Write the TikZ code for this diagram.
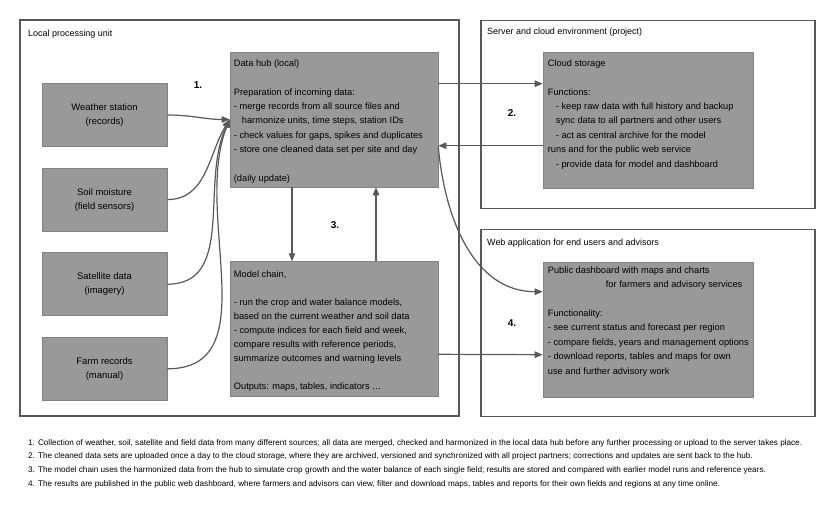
\documentclass[tikz,border=0pt]{standalone}
\usepackage{fontspec}
\setmainfont{Liberation Sans}
\usepackage{xcolor}
\usetikzlibrary{positioning, arrows.meta}

\definecolor{cinzacaixa}{RGB}{153,153,153}
\definecolor{cinzaborda}{RGB}{88,88,88}

\begin{document}
\begin{tikzpicture}[x=1bp, y=1bp,
  quadro/.style 2 args={draw=cinzaborda, line width=1.3bp, minimum width=#1, minimum height=#2, inner sep=0pt},
  caixa/.style 2 args={fill=cinzacaixa, draw=cinzacaixa!85!black, line width=0.6bp, minimum width=#1, minimum height=#2, inner sep=0pt},
  fonte/.style={caixa={125bp}{63bp}, align=center, font=\fontsize{9.5}{14}\selectfont},
  texto/.style={anchor=north west, align=left, inner sep=0pt, font=\fontsize{9.3}{14.5}\selectfont},
  titulo/.style={anchor=west, inner sep=0pt, font=\fontsize{9}{10}\selectfont},
  passo/.style={inner sep=0pt, font=\fontsize{10}{12}\selectfont\bfseries},
  seta/.style={draw=cinzaborda, line width=1.2bp, -{Triangle[length=8bp, width=6.5bp]}}
]

\useasboundingbox (0,0) rectangle (836,-512);

% Quadros de fundo
\node[quadro={439bp}{396bp}] (local) at (239.5,-218) {};
\node[quadro={334bp}{188bp}] (nuvem) at (648,-114.5) {};
\node[quadro={334bp}{187bp}] (web) at (648,-323) {};
\node[titulo] (local-tit) at (28,-34) {Local processing unit};
\node[titulo] (nuvem-tit) at (487,-32) {Server and cloud environment (project)};
\node[titulo] (web-tit) at (487,-243) {Web application for end users and advisors};

% Fontes de dados (caixas pequenas)
\node[fonte] (fonte1) at (104.5,-115) {Weather station\\(records)};
\node[fonte, below=21bp of fonte1] (fonte2) {Soil moisture\\(field sensors)};
\node[fonte, below=21bp of fonte2] (fonte3) {Satellite data\\(imagery)};
\node[fonte, below=21bp of fonte3] (fonte4) {Farm records\\(manual)};

% Caixas principais
\node[caixa={208bp}{135bp}] (hub) at (334,-119.5) {};
\node[caixa={208bp}{135bp}, below=74bp of hub] (modelo) {};
\node[caixa={210bp}{136bp}] (arquivo) at (648,-120) {};
\node[caixa={210bp}{135bp}] (painel) at (648,-329.5) {};

% Textos das caixas
\node[texto] (hub-txt) at ([shift={(4,-7.5)}]hub.north west) {Data hub (local)\\[14.5bp]
Preparation of incoming data:\\
- merge records from all source files and\\
\hspace*{8bp}harmonize units, time steps, station IDs\\
- check values for gaps, spikes and duplicates\\
- store one cleaned data set per site and day\\[14.5bp]
(daily update)};

\node[texto, font=\fontsize{9.3}{14}\selectfont] (modelo-txt) at ([shift={(4,-9.5)}]modelo.north west) {Model chain,\\[14bp]
- run the crop and water balance models,\\
based on the current weather and soil data\\
- compute indices for each field and week,\\
compare results with reference periods,\\
summarize outcomes and warning levels\\[14bp]
Outputs: maps, tables, indicators \dots};

\node[texto] (arquivo-txt) at ([shift={(5,-7.5)}]arquivo.north west) {Cloud storage\\[14.5bp]
Functions:\\
\hspace*{8bp}- keep raw data with full history and backup\\
\hspace*{8bp}sync data to all partners and other users\\
\hspace*{8bp}- act as central archive for the model\\
runs and for the public web service\\
\hspace*{8bp}- provide data for model and dashboard};

\node[texto] (painel-txt) at ([shift={(5,-4.5)}]painel.north west) {Public dashboard with maps and charts\\
\hspace*{58bp}for farmers and advisory services\\[14.5bp]
Functionality:\\
- see current status and forecast per region\\
- compare fields, years and management options\\
- download reports, tables and maps for own\\
use and further advisory work};

% Setas das fontes para o hub
\draw[seta] (fonte1.east) to[out=0, in=180] (hub.west);
\draw[seta] (fonte2.east) to[out=0, in=238] (hub.west);
\draw[seta] (fonte3.east) to[out=0, in=244] (hub.west);
\draw[seta] (fonte4.east) to[out=0, in=248] (hub.west);

% Hub <-> modelo
\draw[seta] ([xshift=-42bp]hub.south) -- ([xshift=-42bp]modelo.north);
\draw[seta] ([xshift=42bp]modelo.north) -- ([xshift=42bp]hub.south);

% Hub <-> nuvem
\draw[seta] ([yshift=-32bp]hub.north east) -- ([yshift=-32bp]arquivo.north west);
\draw[seta] ([yshift=-94bp]arquivo.north west) -- ([yshift=-94bp]hub.north east);

% Hub e modelo -> painel
\draw[seta] ([yshift=-95bp]hub.north east) to[out=-85, in=180] ([yshift=-30bp]painel.north west);
\draw[seta] ([yshift=-93bp]modelo.north east) -- ([yshift=-93bp]painel.north west);

% Numeros dos passos
\node[passo] (p1) at (198,-85) {1.};
\node[passo] (p2) at (512,-113) {2.};
\node[passo] (p3) at (335,-225) {3.};
\node[passo] (p4) at (512,-323) {4.};

% Legenda
\node[anchor=north west, align=left, inner sep=0pt, font=\fontsize{8.2}{13.7}\selectfont] (legenda) at (28,-439) {1. Collection of weather, soil, satellite and field data from many different sources; all data are merged, checked and harmonized in the local data hub before any further processing or upload to the server takes place.\\
2. The cleaned data sets are uploaded once a day to the cloud storage, where they are archived, versioned and synchronized with all project partners; corrections and updates are sent back to the hub.\\
3. The model chain uses the harmonized data from the hub to simulate crop growth and the water balance of each single field; results are stored and compared with earlier model runs and reference years.\\
4. The results are published in the public web dashboard, where farmers and advisors can view, filter and download maps, tables and reports for their own fields and regions at any time online.};

\end{tikzpicture}
\end{document}
